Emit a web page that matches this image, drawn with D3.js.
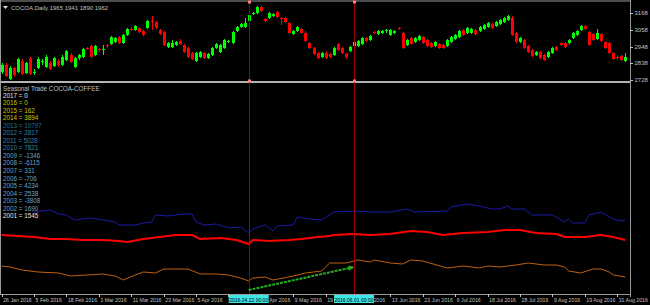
<!DOCTYPE html>
<html>
<head>
<meta charset="utf-8">
<script src="https://cdn.jsdelivr.net/npm/d3@7"></script>
<style>
  body { margin: 0; background: #000; }
  svg { display: block; font-family: "Liberation Sans", Arial, sans-serif; }
</style>
</head>
<body>
<svg id="chart"></svg>
<script>
const width = 650;
const height = 305;

// daily candles, COCOA, 26 Jan 2016 .. 2 Sep 2016
const opens = [2781,2827,2735,2807,2781,2853,2774,2872,2774,2807,2846,2813,2840,2820,2853,2827,2859,2892,2813,2872,
  2879,2938,2951,2892,2932,2925,2958,2964,2978,3010,2971,3024,3063,3056,3070,3050,3070,3116,3109,3056,
  3043,2945,2945,2958,2984,2958,2938,2905,2853,2879,2905,2872,2892,2938,2912,2938,2978,2971,3050,3076,
  3076,3116,3161,3168,3207,3129,3135,3148,3175,3135,3135,3102,3030,3050,3063,3037,2971,2938,2905,2879,
  2905,2899,2892,2964,2938,2899,2918,2951,2951,2964,3004,2991,3043,3030,3037,3050,3024,3037,3070,3037,
  2958,3004,2978,2991,3010,2991,2971,2951,2964,2958,2951,2978,2997,3010,3056,3037,3037,3056,3050,3063,
  3076,3096,3083,3096,3109,3122,3135,3037,2978,2991,2951,2925,2892,2912,2892,2879,2905,2945,2971,2971,
  2971,3004,3024,3056,3083,3043,3030,2997,3030,2978,2971,2905,2879,2886,2853];
const highs = [2840,2840,2820,2813,2872,2866,2846,2879,2800,2879,2866,2892,2853,2879,2866,2892,2925,2905,2879,2899,
  2938,2945,2958,2958,2938,2958,2964,3017,3010,3017,3030,3070,3076,3089,3076,3056,3122,3148,3116,3063,
  3050,2978,2991,2984,2997,2964,2945,2912,2912,2918,2912,2905,2945,2971,2964,2997,2991,3050,3083,3102,
  3135,3161,3175,3214,3214,3135,3175,3168,3181,3142,3142,3109,3056,3083,3070,3050,2978,2945,2912,2912,
  2918,2905,2945,2971,2945,2905,2951,2984,2991,3010,3010,3024,3050,3056,3056,3063,3063,3056,3076,3043,
  2997,3010,3010,3024,3017,2997,2978,2984,2971,2964,2997,3017,3030,3056,3063,3076,3070,3063,3083,3096,
  3109,3102,3116,3129,3142,3155,3148,3043,3010,2997,2958,2932,2918,2918,2899,2918,2945,2951,2978,2978,
  2997,3043,3056,3089,3089,3050,3037,3063,3037,2984,2978,2912,2892,2892,2905];
const lows = [2768,2748,2728,2748,2774,2761,2768,2761,2761,2800,2827,2807,2794,2813,2813,2820,2853,2840,2807,2859,
  2872,2925,2872,2886,2912,2892,2938,2958,2971,2964,2964,3017,3050,3050,3037,3017,3063,3056,3063,3024,
  2951,2938,2938,2951,2958,2905,2872,2859,2846,2872,2866,2866,2886,2932,2905,2932,2971,2964,3043,3070,
  3070,3109,3155,3161,3175,3109,3129,3142,3135,3089,3102,3030,3024,3043,3030,2978,2932,2892,2866,2872,
  2866,2872,2886,2918,2899,2866,2912,2945,2945,2958,2978,2984,3030,3024,3030,3037,3017,3030,3056,2932,
  2951,2958,2971,2984,2964,2945,2938,2945,2932,2932,2945,2971,2991,3004,3017,3030,3030,3024,3043,3056,
  3070,3063,3076,3089,3102,3116,3017,2971,2971,2932,2905,2879,2886,2866,2853,2872,2899,2918,2951,2938,
  2964,2997,3017,3050,3056,2951,2984,2991,2978,2932,2899,2859,2859,2853,2846];
const closes = [2827,2754,2807,2761,2866,2768,2840,2768,2781,2866,2853,2879,2800,2872,2827,2879,2918,2846,2872,2892,
  2932,2932,2879,2951,2925,2932,2951,3010,3004,2971,3024,3063,3056,3083,3043,3024,3116,3109,3070,3030,
  2958,2971,2971,2978,2964,2912,2879,2866,2905,2912,2872,2899,2938,2964,2958,2991,2984,3043,3076,3096,
  3102,3155,3168,3207,3181,3116,3168,3161,3142,3129,3109,3037,3050,3076,3037,2984,2938,2899,2872,2905,
  2872,2879,2938,2925,2905,2879,2945,2978,2984,3004,2984,3017,3037,3050,3050,3056,3056,3050,3063,2938,
  2991,2964,3004,3017,2971,2951,2945,2978,2938,2938,2991,3010,3024,3050,3024,3070,3063,3030,3076,3089,
  3102,3070,3109,3122,3135,3148,3024,2978,3004,2938,2912,2886,2912,2872,2859,2912,2938,2925,2958,2945,
  2991,3037,3050,3083,3063,2958,2991,3037,2984,2938,2905,2866,2872,2859,2879];

const priceTicks = [3168, 3058, 2948, 2838, 2728];

const dateLabels = ["26 Jan 2016","5 Feb 2016","18 Feb 2016","1 Mar 2016","11 Mar 2016","23 Mar 2016","5 Apr 2016",
  "15 Apr 2016","27 Apr 2016","9 May 2016","19 May 2016","1 Jun 2016","13 Jun 2016","23 Jun 2016","6 Jul 2016",
  "18 Jul 2016","28 Jul 2016","9 Aug 2016","19 Aug 2016","31 Aug 2016"];
const dateLabelBars = [0,8,16,24,32,40,48,56,64,72,80,88,96,104,112,120,128,136,144,152];

const markerBars = [61, 87];
const markerLabels = ["2016.04.22 00:00", "2016.06.01 00:00"];

const legendYears = [2017,2016,2015,2014,2013,2012,2011,2010,2009,2008,2007,2006,2005,2004,2003,2002,2001];
const legendValues = [0,0,162,3894,10797,2817,5028,7821,-1346,-6115,331,-706,4234,2538,-3808,1690,1545];
const legendColors = ["#e0e0e0","#c8c800","#c8c800","#c8c800","#1f6f98","#2f86b0","#2f86b0","#2f86b0",
  "#6aa0c8","#6aa0c8","#6aa0c8","#6aa0c8","#6aa0c8","#6aa0c8","#6aa0c8","#6aa0c8","#e0e0e0"];

// seasonal lines (bar index, level)
const blueBars = [8,12,14,16,18,20,22,25,28,29,33,35,37,38,41,43,45,47,48,50,53,56,59,61,62,65,67,68,72,73,76,79,82,87,91,96,100,102,110,111,115,118,121,123,125,126,129,131,136,139,140,141,144,145,148,151,153,154];
const blueVals = [82,84,80,79,74,75,76,74,72,69,69,71,72,79,78,79,80,80,72,69,70,66,67,61,65,69,63,68,69,77,75,74,82,83,82,82,85,82,83,87,90,88,85,85,88,85,85,79,79,72,75,71,71,79,82,75,73,74];
const redBars = [0,4,8,12,16,20,25,29,31,35,39,43,47,49,54,58,61,62,66,71,74,78,81,82,87,91,96,101,105,109,114,120,124,128,132,137,139,144,148,151,154];
const redVals = [59,58,57,55,55,54,54,53,52,55,57,59,59,55,56,54,50,54,53,54,55,57,58,59,60,59,60,63,62,59,61,62,64,64,61,60,57,57,59,57,54];
const orangeBars = [0,2,5,9,14,17,21,25,28,30,33,35,38,40,43,46,49,53,56,59,61,62,65,67,72,75,77,79,81,85,88,91,92,96,99,101,104,110,114,118,120,123,127,130,134,137,139,140,143,146,148,150,151,154];
const orangeVals = [28,27,24,22,21,18,19,20,18,14,19,22,21,25,25,25,20,20,19,16,13,16,17,14,18,21,22,23,31,31,34,32,34,31,30,34,33,26,28,26,28,27,29,31,29,29,27,23,21,25,25,22,19,17];

const trendBars = [61, 87];
const trendVals = [4, 27];

const svg = d3.select("#chart")
  .attr("width", width)
  .attr("height", height)
  .style("background", "#000");

const x = d3.scaleLinear().domain([0, 154]).range([1.7, 625.3]);
const yPrice = d3.scaleLinear().domain([2728, 3168]).range([80, 13]);
const ySeason = d3.scaleLinear().domain([0, 200]).range([294, 94]);

const grey = "#c0c0c0";

// frame
svg.append("line").attr("x1", 0).attr("x2", 630).attr("y1", 1).attr("y2", 1).attr("stroke", "#9a9a9a");
svg.append("rect").attr("x", 0).attr("y", 81).attr("width", 630).attr("height", 2).attr("fill", "#b4b4b4");
svg.append("line").attr("x1", 0.5).attr("x2", 0.5).attr("y1", 0).attr("y2", 294).attr("stroke", "#9a9a9a");
svg.append("line").attr("x1", 630.5).attr("x2", 630.5).attr("y1", 0).attr("y2", 297).attr("stroke", "#9a9a9a");
svg.append("line").attr("x1", 0).attr("x2", 631).attr("y1", 294.5).attr("y2", 294.5).attr("stroke", "#9a9a9a");

// price axis
const pa = svg.append("g");
pa.selectAll("line").data(priceTicks).join("line")
  .attr("x1", 630).attr("x2", 633)
  .attr("y1", d => Math.round(yPrice(d)) + 0.5).attr("y2", d => Math.round(yPrice(d)) + 0.5)
  .attr("stroke", grey);
pa.selectAll("text").data(priceTicks).join("text")
  .attr("x", 634.5).attr("y", d => yPrice(d) + 2.2)
  .attr("fill", grey).attr("font-size", "6px")
  .text(d => d);

// candles
const bars = d3.range(opens.length);
const candles = svg.append("g");
candles.selectAll("line").data(bars).join("line")
  .attr("x1", i => Math.round(x(i)) + 0.5).attr("x2", i => Math.round(x(i)) + 0.5)
  .attr("y1", i => yPrice(highs[i])).attr("y2", i => yPrice(lows[i]))
  .attr("stroke", i => closes[i] >= opens[i] ? "#00ff00" : "#ff0000");
candles.selectAll("rect").data(bars).join("rect")
  .attr("x", i => Math.round(x(i)) - 1)
  .attr("width", 3)
  .attr("y", i => yPrice(Math.max(opens[i], closes[i])))
  .attr("height", i => Math.max(1, Math.abs(yPrice(opens[i]) - yPrice(closes[i]))))
  .attr("fill", i => closes[i] >= opens[i] ? "#00ff00" : "#ff0000");

// headers
svg.append("path").attr("d", "M3,6 L8,6 L5.5,9 Z").attr("fill", "#e0e0e0");
svg.append("text").attr("x", 11).attr("y", 10).attr("fill", grey).attr("font-size", "6px")
  .text("COCOA,Daily  1965 1941 1890 1962");
svg.append("text").attr("x", 3).attr("y", 90.5).attr("fill", grey).attr("font-size", "6.3px")
  .text("Seasonal Trade COCOA-COFFEE");

// seasonal lines
const lineGen = (bs, vs) => d3.line().x((d, k) => x(bs[k])).y((d, k) => ySeason(vs[k]))(vs);
svg.append("path").attr("d", lineGen(orangeBars, orangeVals)).attr("fill", "none").attr("stroke", "#c06010").attr("stroke-width", 1);
svg.append("path").attr("d", lineGen(redBars, redVals)).attr("fill", "none").attr("stroke", "#ff0000").attr("stroke-width", 2);
svg.append("path").attr("d", lineGen(blueBars, blueVals)).attr("fill", "none").attr("stroke", "#1a1aa8").attr("stroke-width", 1);

// legend
svg.append("g").selectAll("text").data(legendYears).join("text")
  .attr("x", 3).attr("y", (d, k) => 97.5 + k * 7.55)
  .attr("fill", (d, k) => legendColors[k]).attr("font-size", "6.3px")
  .text((d, k) => d + " = " + legendValues[k]);

// marker lines
const mk = svg.append("g");
mk.selectAll("line").data(markerBars).join("line")
  .attr("x1", d => Math.round(x(d)) + 0.5).attr("x2", d => Math.round(x(d)) + 0.5)
  .attr("y1", 0).attr("y2", 294).attr("stroke", "#a00000");
[2, 81].forEach(yy => {
  mk.append("g").selectAll("rect").data(markerBars).join("rect")
    .attr("x", d => Math.round(x(d)) - 1).attr("y", yy - 1.5).attr("width", 3).attr("height", 3)
    .attr("fill", "#ff8080");
});

// trend arrow
const tx1 = x(trendBars[0]), ty1 = ySeason(trendVals[0]);
const tx2 = x(trendBars[1]), ty2 = ySeason(trendVals[1]);
svg.append("line").attr("x1", tx1).attr("y1", ty1).attr("x2", tx2).attr("y2", ty2)
  .attr("stroke", "#22b022").attr("stroke-width", 2).attr("stroke-dasharray", "3,1");
const ang = Math.atan2(ty2 - ty1, tx2 - tx1);
svg.append("path")
  .attr("d", `M${tx2},${ty2} L${tx2 - 6 * Math.cos(ang - 0.45)},${ty2 - 6 * Math.sin(ang - 0.45)} L${tx2 - 6 * Math.cos(ang + 0.45)},${ty2 - 6 * Math.sin(ang + 0.45)} Z`)
  .attr("fill", "#22b022");

// date axis
const da = svg.append("g");
da.selectAll("line").data(dateLabelBars).join("line")
  .attr("x1", d => Math.round(x(d)) + 0.5).attr("x2", d => Math.round(x(d)) + 0.5)
  .attr("y1", 294).attr("y2", 297).attr("stroke", grey);
da.selectAll("text").data(dateLabels).join("text")
  .attr("x", (d, k) => x(dateLabelBars[k]) + 1.5).attr("y", 301.5)
  .attr("fill", grey).attr("font-size", "5.2px")
  .text(d => d);

// marker boxes on the axis (drawn over the date labels they hide)
const mb = svg.append("g");
mb.selectAll("rect").data(markerBars).join("rect")
  .attr("x", d => x(d) - 20).attr("y", 295).attr("width", 40).attr("height", 8)
  .attr("fill", "#3ce6e6");
mb.selectAll("text").data(markerLabels).join("text")
  .attr("x", (d, k) => x(markerBars[k])).attr("y", 301.5)
  .attr("text-anchor", "middle").attr("fill", "#000").attr("font-size", "5px")
  .text(d => d);
</script>
</body>
</html>
